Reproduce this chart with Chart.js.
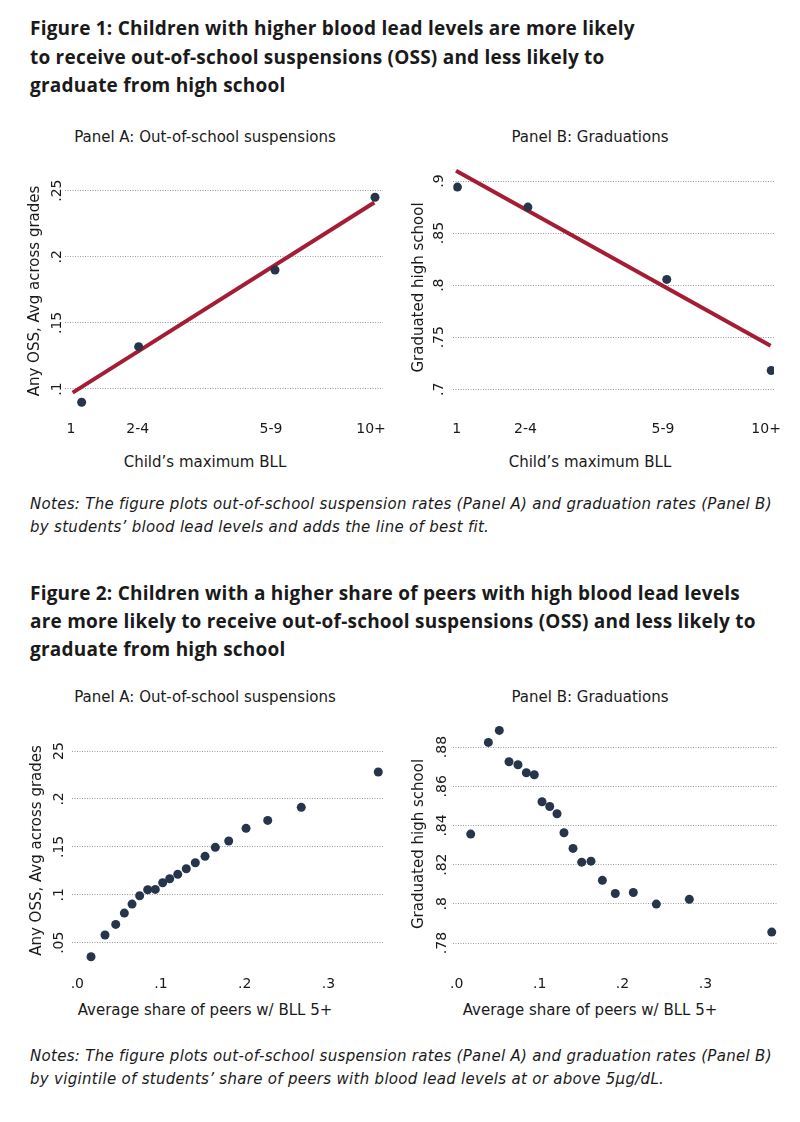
<!DOCTYPE html>
<html>
<head>
<meta charset="utf-8">
<title>Blood lead levels and school outcomes</title>
<script src="https://cdn.jsdelivr.net/npm/chart.js@4.4.1/dist/chart.umd.min.js"></script>
<style>
  body { margin: 0; background: #fff; }
  #page { position: relative; width: 800px; height: 1122px; font-family: 'DejaVu Sans', sans-serif; color: #1a1a1a; }
  .fig-title { position: absolute; left: 30px; font-family: 'Open Sans', sans-serif; font-weight: 700; font-size: 19px; line-height: 28.5px; letter-spacing: 0.22px; white-space: nowrap; }
  .notes { position: absolute; left: 30px; font-style: italic; font-size: 15px; line-height: 23px; letter-spacing: 0.3px; white-space: nowrap; }
  .panel-title, .x-title { position: absolute; width: 400px; text-align: center; font-size: 15px; line-height: 20px; }
  .box { position: absolute; width: 400px; }
</style>
</head>
<body>
<div id="page">
  <div class="fig-title" style="top:14px">Figure 1: Children with higher blood lead levels are more likely<br>to receive out-of-school suspensions (OSS) and less likely to<br>graduate from high school</div>

  <div class="panel-title" style="left:5px; top:127px">Panel A: Out-of-school suspensions</div>
  <div class="panel-title" style="left:390px; top:127px">Panel B: Graduations</div>
  <div class="box" style="left:0; top:150px; height:290px"><canvas id="fig1a"></canvas></div>
  <div class="box" style="left:400px; top:145px; height:295px"><canvas id="fig1b"></canvas></div>
  <div class="x-title" style="left:5px; top:452px">Child’s maximum BLL</div>
  <div class="x-title" style="left:390px; top:452px">Child’s maximum BLL</div>

  <div class="notes" style="top:493px">Notes: The figure plots out-of-school suspension rates (Panel A) and graduation rates (Panel B)<br>by students’ blood lead levels and adds the line of best fit.</div>

  <div class="fig-title" style="top:579px; line-height:28px">Figure 2: Children with a higher share of peers with high blood lead levels<br>are more likely to receive out-of-school suspensions (OSS) and less likely to<br>graduate from high school</div>

  <div class="panel-title" style="left:5px; top:687px">Panel A: Out-of-school suspensions</div>
  <div class="panel-title" style="left:390px; top:687px">Panel B: Graduations</div>
  <div class="box" style="left:0; top:715px; height:281px"><canvas id="fig2a"></canvas></div>
  <div class="box" style="left:400px; top:702px; height:294px"><canvas id="fig2b"></canvas></div>
  <div class="x-title" style="left:5px; top:1000px">Average share of peers w/ BLL 5+</div>
  <div class="x-title" style="left:390px; top:1000px">Average share of peers w/ BLL 5+</div>

  <div class="notes" style="top:1045px">Notes: The figure plots out-of-school suspension rates (Panel A) and graduation rates (Panel B)<br>by vigintile of students’ share of peers with blood lead levels at or above 5µg/dL.</div>
</div>

<script>
// Figure 1: by child's maximum BLL bin
const fig1XTicks = [1, 3, 7, 10];
const fig1XLabels = ['1', '2-4', '5-9', '10+'];

const fig1OssX = [1.32, 3.03, 7.12, 10.12];
const fig1OssY = [0.090, 0.132, 0.190, 0.245];
const fig1OssFitX = [1.05, 10.1];
const fig1OssFitY = [0.0972, 0.241];
const fig1OssYTicks = [0.1, 0.15, 0.2, 0.25];
const fig1OssYLabels = ['.1', '.15', '.2', '.25'];

const fig1GradX = [1.02, 3.07, 7.11, 10.15];
const fig1GradY = [0.8942, 0.875, 0.8055, 0.718];
const fig1GradFitX = [0.98, 10.13];
const fig1GradFitY = [0.9099, 0.7417];
const fig1GradYTicks = [0.7, 0.75, 0.8, 0.85, 0.9];
const fig1GradYLabels = ['.7', '.75', '.8', '.85', '.9'];

// Figure 2: vigintiles of share of peers with BLL 5+
const fig2XTicks = [0, 0.1, 0.2, 0.3];
const fig2XLabels = ['.0', '.1', '.2', '.3'];

const fig2OssX = [0.0164, 0.0331, 0.0459, 0.0562, 0.0654, 0.0745, 0.0841, 0.0932, 0.102, 0.1104,
                  0.120, 0.1302, 0.141, 0.1526, 0.1649, 0.1809, 0.2016, 0.2275, 0.2676, 0.3596];
const fig2OssY = [0.0353, 0.058, 0.0691, 0.0809, 0.0903, 0.099, 0.1052, 0.1056, 0.1125, 0.1167,
                  0.1213, 0.1272, 0.1334, 0.1401, 0.1495, 0.1561, 0.1693, 0.1776, 0.1912, 0.2281];
const fig2OssYTicks = [0.05, 0.1, 0.15, 0.2, 0.25];
const fig2OssYLabels = ['.05', '.1', '.15', '.2', '25'];

const fig2GradX = [0.0169, 0.0382, 0.0514, 0.0631, 0.0739, 0.084, 0.0936, 0.1029, 0.1122, 0.121,
                   0.1294, 0.1403, 0.1508, 0.162, 0.1757, 0.1913, 0.213, 0.2408, 0.2806, 0.380];
const fig2GradY = [0.8356, 0.8824, 0.8885, 0.8725, 0.871, 0.8669, 0.8659, 0.8521, 0.8497, 0.846,
                   0.8363, 0.8283, 0.8213, 0.8218, 0.812, 0.8053, 0.8058, 0.7999, 0.8023, 0.7856];
const fig2GradYTicks = [0.78, 0.8, 0.82, 0.84, 0.86, 0.88];
const fig2GradYLabels = ['.78', '.8', '.82', '.84', '.86', '.88'];

const dotColor = '#26354a';
const fitColor = '#a51d34';
const textColor = '#1a1a1a';

Chart.defaults.font.family = "'DejaVu Sans', sans-serif";
Chart.defaults.color = textColor;

function toPoints(xs, ys) {
  return xs.map((x, i) => ({ x: x, y: ys[i] }));
}

function makePanel(id, c) {
  const datasets = [{
    data: toPoints(c.x, c.y),
    backgroundColor: dotColor,
    borderWidth: 0,
    pointRadius: 4.5,
    pointHoverRadius: 4.5
  }];
  if (c.fitX) {
    datasets.push({
      data: toPoints(c.fitX, c.fitY),
      showLine: true,
      borderColor: fitColor,
      borderWidth: 4,
      pointRadius: 0
    });
  }

  new Chart(document.getElementById(id), {
    type: 'scatter',
    data: { datasets: datasets },
    options: {
      animation: false,
      responsive: true,
      maintainAspectRatio: false,
      layout: { padding: c.pad },
      plugins: { legend: { display: false }, tooltip: { enabled: false } },
      scales: {
        x: {
          min: c.xMin, max: c.xMax,
          grid: { display: false },
          border: { display: false },
          afterBuildTicks: s => { s.ticks = c.xTicks.map(v => ({ value: v })); },
          afterFit: s => { s.height = 30; },
          ticks: {
            autoSkip: false, maxRotation: 0,
            padding: c.xPad,
            font: { size: 14 },
            callback: (v, i) => c.xLabels[i]
          }
        },
        y: {
          min: c.yMin, max: c.yMax,
          grid: { color: '#9a9a9a', lineWidth: 1, drawTicks: false },
          border: { display: false, dash: [1, 1.5] },
          afterBuildTicks: s => { s.ticks = c.yTicks.map(v => ({ value: v })); },
          afterFit: s => { s.width = c.yW; },
          ticks: {
            autoSkip: false,
            minRotation: 90, maxRotation: 90,
            crossAlign: 'center',
            padding: c.yPad,
            font: { size: 14 },
            callback: (v, i) => c.yLabels[i]
          },
          title: {
            display: true,
            text: c.yTitle,
            font: { size: 15 },
            padding: { top: c.yTitlePad, bottom: 0 }
          }
        }
      }
    }
  });
}

makePanel('fig1a', {
  x: fig1OssX, y: fig1OssY, fitX: fig1OssFitX, fitY: fig1OssFitY,
  xMin: 0.82, xMax: 10.36, xTicks: fig1XTicks, xLabels: fig1XLabels, xPad: 3,
  yMin: 0.0841, yMax: 0.2641, yTicks: fig1OssYTicks, yLabels: fig1OssYLabels,
  yW: 65, yPad: -3.4, yTitle: 'Any OSS, Avg across grades', yTitlePad: 26,
  pad: { top: 22, right: 17, left: 0, bottom: 0 }
});

makePanel('fig1b', {
  x: fig1GradX, y: fig1GradY, fitX: fig1GradFitX, fitY: fig1GradFitY,
  xMin: 0.90, xMax: 10.23, xTicks: fig1XTicks, xLabels: fig1XLabels, xPad: 3,
  yMin: 0.6801, yMax: 0.9154, yTicks: fig1GradYTicks, yLabels: fig1GradYLabels,
  yW: 53.3, yPad: 2.9, yTitle: 'Graduated high school', yTitlePad: 10.3,
  pad: { top: 20, right: 26, left: 0, bottom: 0 }
});

makePanel('fig2a', {
  x: fig2OssX, y: fig2OssY,
  xMin: -0.0067, xMax: 0.3656, xTicks: fig2XTicks, xLabels: fig2XLabels, xPad: 2,
  yMin: 0.0257, yMax: 0.2667, yTicks: fig2OssYTicks, yLabels: fig2OssYLabels,
  yW: 71.7, yPad: 1.3, yTitle: 'Any OSS, Avg across grades', yTitlePad: 27.7,
  pad: { top: 20, right: 16.7, left: 0, bottom: 0 }
});

makePanel('fig2b', {
  x: fig2GradX, y: fig2GradY,
  xMin: -0.0041, xMax: 0.3867, xTicks: fig2XTicks, xLabels: fig2XLabels, xPad: 2,
  yMin: 0.7683, yMax: 0.8928, yTicks: fig2GradYTicks, yLabels: fig2GradYLabels,
  yW: 53.3, yPad: -0.5, yTitle: 'Graduated high school', yTitlePad: 10.3,
  pad: { top: 20, right: 22.7, left: 0, bottom: 0 }
});
</script>
</body>
</html>
